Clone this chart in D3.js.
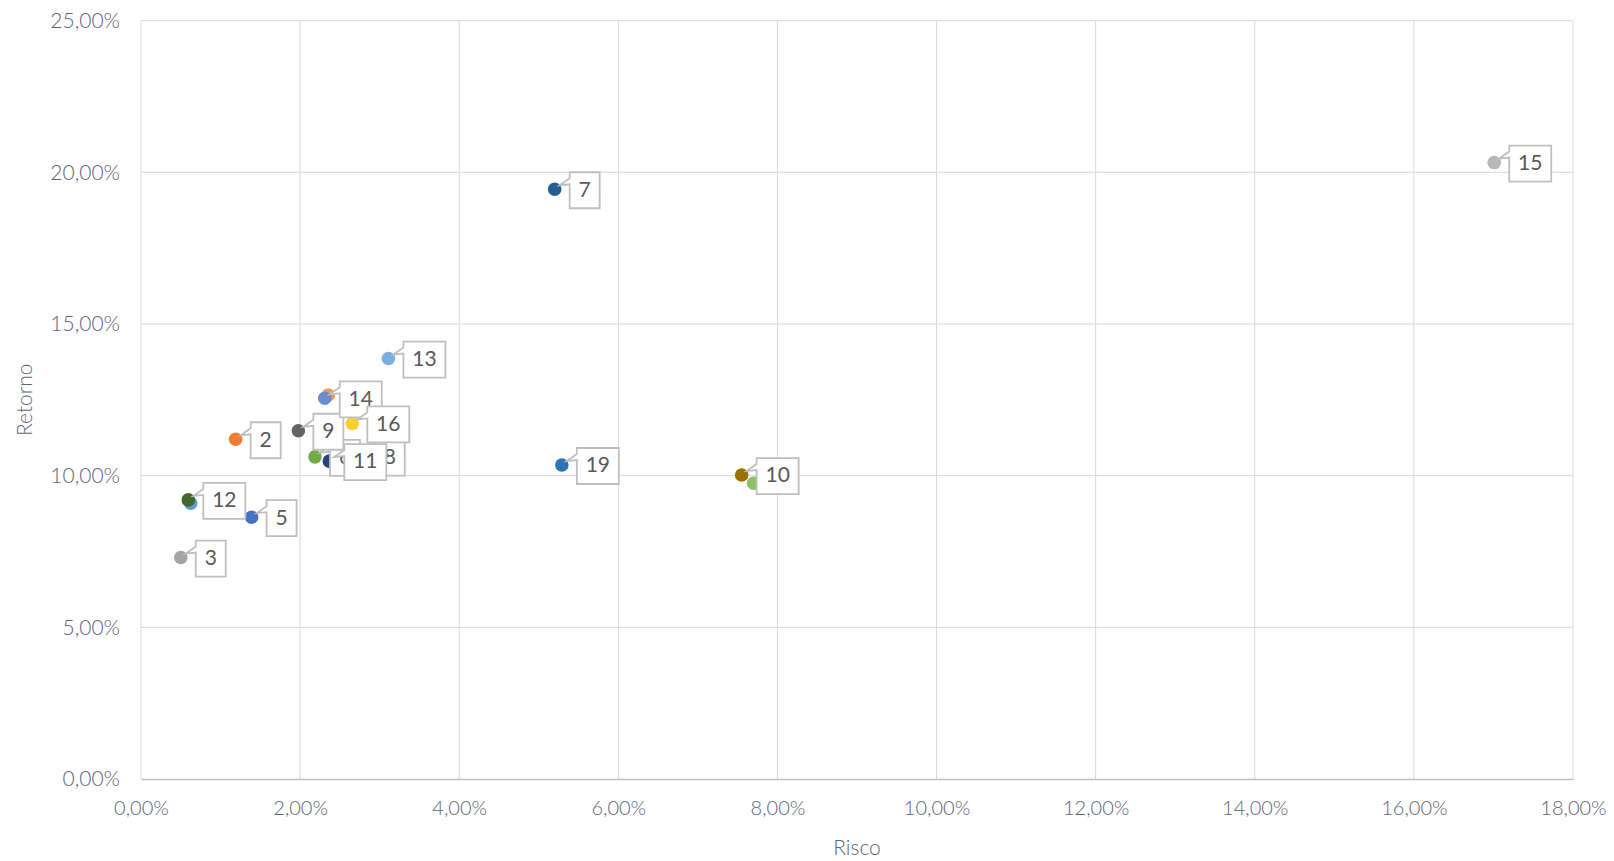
<!DOCTYPE html>
<html><head><meta charset="utf-8">
<script src="https://cdnjs.cloudflare.com/ajax/libs/d3/7.8.5/d3.min.js"></script>
<style>
html,body{margin:0;padding:0;background:#fff;}
svg text{font-family:Lato,"Open Sans",sans-serif;}
</style></head>
<body>
<svg id="chart" width="1614" height="861"></svg>
<script>
// Data (draw order) — risk (x, %) and return (y, %); empty label = point whose label is hidden
const labels = ["","","","2","3","5","6","7","8","9","10","11","12","13","14","15","16","19"];
const risco  = [0.625,7.70,2.355,1.19,0.50,1.39,2.187,5.20,2.75,1.978,7.55,2.367,0.595,3.11,2.31,17.01,2.656,5.29];
const retorno= [9.09,9.75,12.66,11.20,7.30,8.63,10.62,19.44,10.63,11.48,10.02,10.48,9.20,13.86,12.55,20.32,11.72,10.35];
const colors = ["#5B9BD5","#8CC168","#F1975A","#ED7D31","#A5A5A5","#4472C4","#70AD47","#255E91","#9E480E","#636363","#997300","#264478","#43682B","#7CAFDD","#698ED0","#B7B7B7","#FFCD33","#2E75B6"];
const xTicks = [0,2,4,6,8,10,12,14,16,18];
const yTicks = [0,5,10,15,20,25];

const svg = d3.select("#chart");
const L=141, R=1573, T=20.6, B=779;
const x = d3.scaleLinear().domain([0,18]).range([L,R]);
const y = d3.scaleLinear().domain([0,25]).range([B,T]);
const fmt = v => d3.format(".2f")(v).replace(".",",")+"%";
const tickColor = "#5d6575";

// gridlines
svg.append("g").selectAll("line").data(yTicks.filter(d=>d>0)).join("line")
  .attr("x1",L).attr("x2",R).attr("y1",d=>y(d)).attr("y2",d=>y(d))
  .attr("stroke","#d9d9d9").attr("stroke-width",1);
svg.append("g").selectAll("line").data(xTicks).join("line")
  .attr("x1",d=>x(d)).attr("x2",d=>x(d)).attr("y1",T).attr("y2",B)
  .attr("stroke","#d9d9d9").attr("stroke-width",1);

// axes
const xAxis = svg.append("g").attr("transform",`translate(0,${B})`)
  .call(d3.axisBottom(x).tickValues(xTicks).tickFormat(fmt).tickSize(0).tickPadding(22));
xAxis.select(".domain").attr("stroke","#bfbfbf").attr("stroke-width",1.3);
xAxis.selectAll("text").attr("fill",tickColor).attr("font-size",20).attr("font-weight",300);

const yAxis = svg.append("g").attr("transform",`translate(${L},0)`)
  .call(d3.axisLeft(y).tickValues(yTicks).tickFormat(fmt).tickSize(0).tickPadding(21));
yAxis.select(".domain").remove();
yAxis.selectAll("text").attr("fill",tickColor).attr("font-size",21).attr("font-weight",300);

// axis titles
svg.append("text").attr("x",(L+R)/2).attr("y",855).attr("text-anchor","middle")
  .attr("fill",tickColor).attr("font-size",21).attr("font-weight",300).text("Risco");
svg.append("text").attr("transform",`translate(32,${(T+B)/2}) rotate(-90)`).attr("text-anchor","middle")
  .attr("fill",tickColor).attr("font-size",21).attr("font-weight",300).text("Retorno");

const data = labels.map((l,i)=>({l, x:risco[i], y:retorno[i], c:colors[i]}));
const r = 6.8;
// markers
svg.append("g").selectAll("circle").data(data).join("circle")
  .attr("cx",d=>x(d.x)).attr("cy",d=>y(d.y)).attr("r",r).attr("fill",d=>d.c);

// callout labels
const lg = svg.append("g");
data.filter(d=>d.l!=="").forEach(d=>{
  const px=x(d.x), py=y(d.y);
  const w = d.l.length>1 ? 42 : 30, h = 36;
  const bx = px+15, by = py-17;
  const tipx = px+5, tipy = py-4;
  const path = `M${bx},${by} L${bx+w},${by} L${bx+w},${by+h} L${bx},${by+h} L${bx},${by+12} L${tipx},${tipy} L${bx},${by+6} Z`;
  lg.append("path").attr("d",path).attr("fill","#fff").attr("stroke","#bfbfbf").attr("stroke-width",1.8).attr("stroke-linejoin","miter");
  lg.append("text").attr("x",bx+w/2).attr("y",by+h/2+1).attr("text-anchor","middle").attr("dominant-baseline","middle")
    .attr("fill","#595959").attr("font-size",21).text(d.l);
});
</script>
</body></html>
